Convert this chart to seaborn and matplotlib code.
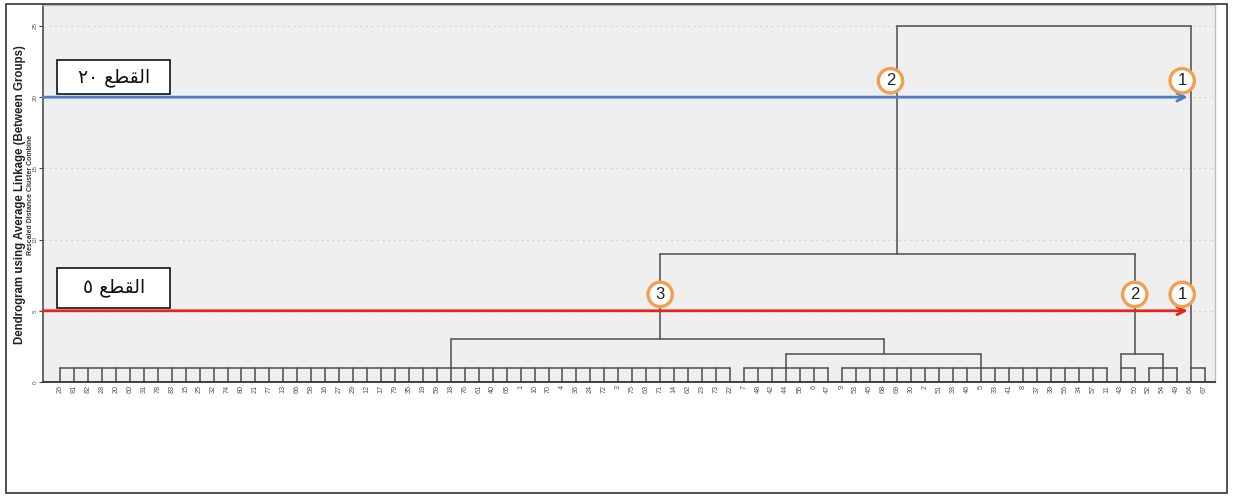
import numpy as np
import pandas as pd
import matplotlib
matplotlib.use("Agg")
import matplotlib.pyplot as plt
from matplotlib.patches import Rectangle
import seaborn as sns

# ---------------- data ----------------
leaf_labels = ["26", "81", "82", "28", "20", "60", "31", "78", "83", "15",
               "25", "32", "74", "80", "21", "77", "13", "66", "58", "16",
               "27", "29", "12", "17", "79", "35", "19", "59", "18", "76",
               "61", "40", "65", "1", "10", "70", "4", "36", "24", "72",
               "3", "75", "63", "71", "14", "62", "23", "73", "22", "7",
               "48", "42", "44", "55", "6", "47", "9", "53", "45", "68",
               "69", "30", "2", "51", "38", "46", "5", "33", "41", "8",
               "37", "39", "56", "34", "57", "11", "43", "50", "52", "54",
               "49", "64", "67"]

# low-level groups (leaves joined at ~1)
group_names = ["A", "B", "C", "D", "E", "F"]
group_first = ["26", "7", "9", "43", "52", "64"]
group_last = ["22", "47", "11", "50", "49", "67"]
group_stem = ["18", "44", "5", "43", "54", "64"]
group_height = 1.0

# merges of groups
merge_left = ["B", "A", "D", "ABC", "ABCDE"]
merge_right = ["C", "BC", "E", "DE", "F"]
merge_name = ["BC", "ABC", "DE", "ABCDE", "ALL"]
merge_height = [2, 3, 2, 9, 25]
merge_stem = ["68", "71", "50", "69", None]

# cut lines
cut_levels = [20, 5]
cut_colors = ["#4a7fc0", "#e3261d"]
cut_words = ["\u0662\u0660 \uFECA\uFEC4\uFED8\uFEDF\uFE8D",   # القطع ٢٠
             "\u0665 \uFECA\uFEC4\uFED8\uFEDF\uFE8D"]         # القطع ٥
circle_numbers = [["2", "1"], ["3", "2", "1"]]
circle_x = [[59.5, 80.4], [43.0, 77.0, 80.4]]

y_ticks = [0, 5, 10, 15, 20, 25]
y_title = "Dendrogram using Average Linkage (Between Groups)"
y_subtitle = "Rescaled Distance Cluster Combine"

# ---------------- build segments ----------------
pos = {lab: i for i, lab in enumerate(leaf_labels)}
segs = []
def seg(x0, y0, x1, y1):
    sid = len(segs)
    segs.append({"x": x0, "y": y0, "seg": sid})
    segs.append({"x": x1, "y": y1, "seg": sid})

clusters = {}
for name, a, b, s in zip(group_names, group_first, group_last, group_stem):
    i0, i1 = pos[a], pos[b]
    for i in range(i0, i1 + 1):
        seg(i, 0, i, group_height)
    seg(i0, group_height, i1, group_height)
    clusters[name] = (pos[s], group_height)

for l, r, n, h, s in zip(merge_left, merge_right, merge_name, merge_height, merge_stem):
    lx, lh = clusters[l]
    rx, rh = clusters[r]
    seg(lx, lh, lx, h)
    seg(rx, rh, rx, h)
    seg(lx, h, rx, h)
    clusters[n] = (pos[s] if s is not None else (lx + rx) / 2, h)

df = pd.DataFrame(segs)

# ---------------- plot ----------------
sns.set_theme(style="white")
plt.rcParams["font.family"] = ["Liberation Sans", "DejaVu Sans"]

fig = plt.figure(figsize=(12.33, 4.97), dpi=100)
ax = fig.add_axes([43 / 1233, 1 - 382 / 497, (1215 - 43) / 1233, (382 - 5) / 497])
ax.set_facecolor("#efefef")

for yv in y_ticks[1:]:
    ax.axhline(yv, color="#d8d8d8", lw=0.8, ls=(0, (2, 3)), zorder=0)

sns.lineplot(data=df, x="x", y="y", units="seg", estimator=None, sort=False,
             color="#4d4d4d", lw=1.1, ax=ax, legend=False)

n = len(leaf_labels)
ax.set_xlim(-1.22, 82.75)
ax.set_ylim(0, 26.47)

ax.set_xticks(range(n))
ax.set_xticklabels(leaf_labels, rotation=90, fontsize=5.2, color="#555555")
ax.tick_params(axis="x", length=0, pad=2)
ax.set_yticks(y_ticks)
ax.set_yticklabels([str(v) for v in y_ticks], rotation=90, fontsize=4.5,
                   color="#555555", va="center")
ax.tick_params(axis="y", length=3, width=0.8, color="#444444", pad=1, left=True)
ax.set_xlabel("")
ax.set_ylabel("")

for side in ["top", "right"]:
    ax.spines[side].set_color("#bdbdbd")
    ax.spines[side].set_linewidth(1.0)
ax.spines["left"].set_color("#555555")
ax.spines["bottom"].set_color("#333333")
ax.spines["bottom"].set_linewidth(1.3)

# cut lines with arrows, boxes and circles
box_tops = [22.6, 8.0]
for lvl, col, word, nums, xs, btop in zip(cut_levels, cut_colors, cut_words,
                                           circle_numbers, circle_x, box_tops):
    ax.annotate("", xy=(80.8, lvl), xytext=(-1.22, lvl),
                arrowprops=dict(arrowstyle="->", color=col, lw=2.0,
                                shrinkA=0, shrinkB=0, mutation_scale=14),
                zorder=5)
    rect = Rectangle((-0.2, lvl + 0.2), 8.1, btop - lvl - 0.2, facecolor="white",
                     edgecolor="#111111", lw=1.2, zorder=6)
    ax.add_patch(rect)
    ax.text(3.85, (lvl + 0.2 + btop) / 2, word, fontsize=13.5,
            family=["DejaVu Sans"], ha="center", va="center",
            color="#111111", zorder=7)
    for num, xc in zip(nums, xs):
        ax.text(xc, lvl + 1.15, num, fontsize=12, ha="center", va="center",
                color="#222222", zorder=8,
                bbox=dict(boxstyle="circle,pad=0.28", fc="white",
                          ec="#f0a050", lw=2.4))

fig.text(20 / 1233, 1 - 195 / 497, y_title, rotation=90, fontsize=8.3,
         fontweight="bold", ha="center", va="center", color="#222222")
fig.text(30.5 / 1233, 1 - 195 / 497, y_subtitle, rotation=90, fontsize=5.0,
         fontweight="bold", ha="center", va="center", color="#333333")

fig.patches.append(Rectangle((6 / 1233, 4 / 497), 1221 / 1233, 489 / 497,
                             transform=fig.transFigure, fill=False,
                             edgecolor="#333333", lw=1.2))

fig.savefig("out.png", dpi=100)
